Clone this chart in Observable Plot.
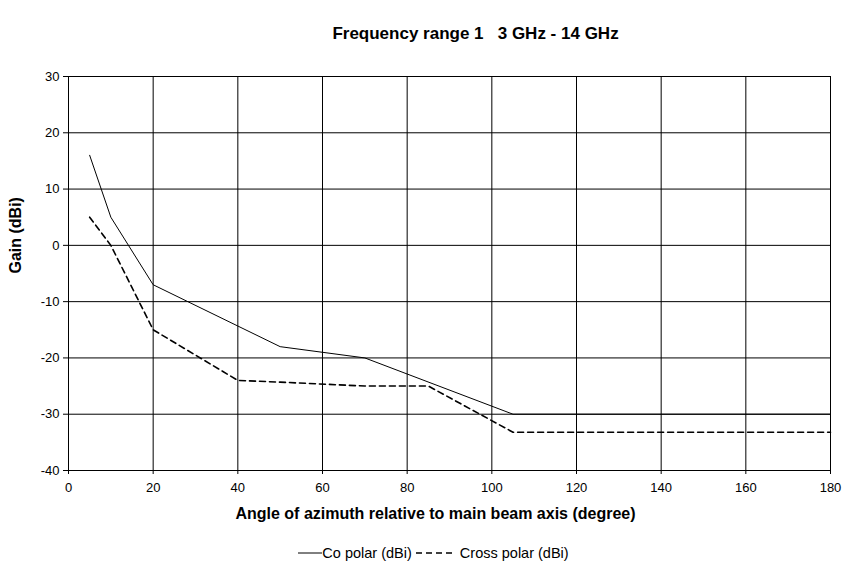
<!DOCTYPE html>
<html><head><meta charset="utf-8">
<script src="https://cdn.jsdelivr.net/npm/d3@7"></script>
<script src="https://cdn.jsdelivr.net/npm/@observablehq/plot@0.6"></script>
<style>
body{margin:0;background:#fff;font-family:"Liberation Sans",Arial,sans-serif;}
#wrap{position:relative;width:845px;height:563px;overflow:hidden;}
#chart{position:absolute;left:0;top:0;}
#legend{position:absolute;left:0;top:543px;width:845px;height:20px;display:flex;align-items:center;justify-content:center;font-size:14.5px;color:#000;padding-left:22px;box-sizing:border-box;}
#legend span{white-space:pre;}
</style></head><body>
<div id="wrap"><div id="chart"></div>
<div id="legend">
<svg width="24" height="10"><line x1="0" x2="24" y1="5" y2="5" stroke="#000" stroke-width="1"/></svg><span>Co polar (dBi) </span>
<svg width="36" height="10"><line x1="0" x2="36" y1="5" y2="5" stroke="#000" stroke-width="1.6" stroke-dasharray="6,4"/></svg><span>  Cross polar (dBi)</span>
</div></div>
<script>
const chartTitle = "Frequency range 1   3 GHz - 14 GHz";
const xTitle = "Angle of azimuth relative to main beam axis (degree)";
const yTitle = "Gain (dBi)";
const xTicks = [0,20,40,60,80,100,120,140,160,180];
const yTicks = [-40,-30,-20,-10,0,10,20,30];

const coAngle = [5,10,20,50,70,105,180];
const coPolar = [16,5,-7,-18,-20,-30,-30];
const crossAngle = [5,10,20,40,50,70,85,105,180];
const crossPolar = [5,0,-15,-24,-24.3,-25,-25,-33.2,-33.2];

const co = coAngle.map((a,i)=>({angle:a, gain:coPolar[i]}));
const cross = crossAngle.map((a,i)=>({angle:a, gain:crossPolar[i]}));

const plot = Plot.plot({
  width:845, height:543,
  marginLeft:68, marginRight:15, marginTop:76, marginBottom:73,
  style:{fontFamily:"Liberation Sans, Arial, sans-serif", fontSize:"13px", color:"#000", background:"#fff", overflow:"visible"},
  x:{domain:[0,180]},
  y:{domain:[-40,30]},
  marks:[
    Plot.gridX(xTicks,{stroke:"#000",strokeOpacity:1}),
    Plot.gridY(yTicks,{stroke:"#000",strokeOpacity:1}),
    Plot.frame({stroke:"#000"}),
    Plot.axisX(xTicks,{tickSize:4,tickPadding:8,label:null,tickFormat:d=>String(d),fontSize:13}),
    Plot.axisY(yTicks,{tickSize:5,tickPadding:4,label:null,tickFormat:d=>String(d),fontSize:13}),
    Plot.line(co,{x:"angle",y:"gain",stroke:"#000",strokeWidth:1}),
    Plot.line(cross,{x:"angle",y:"gain",stroke:"#000",strokeWidth:1.6,strokeDasharray:"6,4"}),
    Plot.text([xTitle],{text:d=>d,frameAnchor:"bottom",dy:48,dx:-14,fontWeight:"bold",fontSize:16}),
    Plot.text([yTitle],{text:d=>d,frameAnchor:"left",dx:-53,rotate:-90,fontWeight:"bold",fontSize:16}),
    Plot.text([chartTitle],{text:d=>d,frameAnchor:"top",dy:-50,dx:26,fontWeight:"bold",fontSize:17})
  ]
});
document.getElementById("chart").appendChild(plot);
</script>
</body></html>
